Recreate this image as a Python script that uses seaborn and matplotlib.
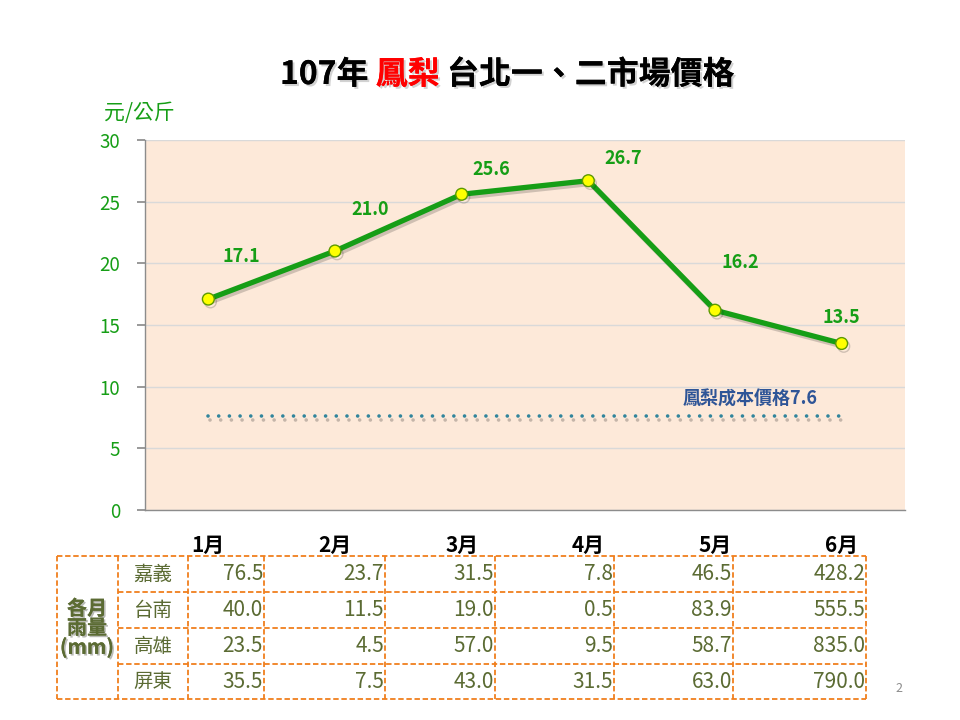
import matplotlib
matplotlib.use("Agg")
import matplotlib.pyplot as plt
import matplotlib.patheffects as pe
import seaborn as sns
import pandas as pd

sns.set_theme(style="white")
plt.rcParams['font.family'] = ['Noto Sans CJK TC', 'DejaVu Sans']

# ---- data ----
months = ["1月", "2月", "3月", "4月", "5月", "6月"]
prices = [17.1, 21.0, 25.6, 26.7, 16.2, 13.5]
cost_price = 7.6
cost_label = "鳳梨成本價格7.6"
stations = ["嘉義", "台南", "高雄", "屏東"]
rain_chiayi = [76.5, 23.7, 31.5, 7.8, 46.5, 428.2]
rain_tainan = [40.0, 11.5, 19.0, 0.5, 83.9, 555.5]
rain_kaohsiung = [23.5, 4.5, 57.0, 9.5, 58.7, 835.0]
rain_pingtung = [35.5, 7.5, 43.0, 31.5, 63.0, 790.0]
yticks = [0, 5, 10, 15, 20, 25, 30]

W, H = 960, 720
fig = plt.figure(figsize=(9.6, 7.2), dpi=100)
fig.patch.set_facecolor("white")

def fx(px):
    return px / W

def fy(py):
    return 1 - py / H

green = "#169E16"

# ---- main chart ----
ax = fig.add_axes([fx(145), fy(510), (905 - 145) / W, (510 - 140) / H])
ax.set_facecolor("#FDE9D9")
df = pd.DataFrame({"month": months, "price": prices, "idx": range(len(months))})

ax.plot([0, len(months) - 1], [cost_price, cost_price], color="#31859C",
        lw=2.6, ls=(0, (0.01, 2.95)), dash_capstyle="round",
        path_effects=[pe.SimpleLineShadow(offset=(1.5, -2.5), alpha=0.25), pe.Normal()], zorder=3)

sns.lineplot(data=df, x="idx", y="price", ax=ax, color=green, lw=3.8,
             marker="o", markersize=8.5, markerfacecolor="#FFFF00",
             markeredgecolor="#5C9A00", markeredgewidth=1.0, zorder=4,
             path_effects=[pe.SimpleLineShadow(offset=(1.5, -2), alpha=0.2), pe.Normal()])

label_offsets = [(24, 31), (25, 30), (21, 18), (25, 16), (18, 34), (0, 19)]
for i, (v, off) in enumerate(zip(prices, label_offsets)):
    ax.annotate(f"{v:.1f}", (i, v), xytext=off, textcoords="offset points",
                ha="center", va="center", color=green, fontsize=13,
                fontweight="bold", zorder=5)

ax.text(4.28, cost_price + 1.35, cost_label, ha="center", va="center",
        color="#2F5597", fontsize=13, fontweight="bold")

ax.set_xlim(-0.5, len(months) - 0.5)
ax.set_ylim(0, 30)
ax.set_yticks(yticks)
ax.set_yticklabels([str(t) for t in yticks], color=green, fontsize=13.5)
ax.set_xticks([])
ax.set_xlabel("")
ax.set_ylabel("")
ax.yaxis.grid(True, color="#D9D9D9", lw=1)
ax.set_axisbelow(True)
ax.tick_params(axis="y", which="both", left=True, length=6, color="#8C8C8C", pad=12)
for s in ["top", "right"]:
    ax.spines[s].set_visible(False)
for s in ["left", "bottom"]:
    ax.spines[s].set_color("#8C8C8C")
    ax.spines[s].set_linewidth(1)

# ---- overlay for title, labels and table ----
ov = fig.add_axes([0, 0, 1, 1], facecolor="none")
ov.set_xlim(0, W)
ov.set_ylim(H, 0)
ov.axis("off")

shadow = [pe.withSimplePatchShadow(offset=(1.5, -1.5), alpha=0.35, shadow_rgbFace="#808080"), pe.Normal()]
tsize = 23
t1 = ov.text(280, 75, "107年 ", fontsize=tsize, fontweight="bold", color="black",
             va="center", ha="left", path_effects=shadow)
fig.canvas.draw()
r = fig.canvas.get_renderer()
bb = t1.get_window_extent(r)
t2 = ov.text(bb.x1, 75, "鳳梨", fontsize=tsize, fontweight="bold", color="#FF0000",
             va="center", ha="left", path_effects=shadow)
bb2 = t2.get_window_extent(r)
ov.text(bb2.x1, 75, " 台北一、二市場價格", fontsize=tsize, fontweight="bold", color="black",
        va="center", ha="left", path_effects=shadow)

ov.text(104, 113, "元/公斤", fontsize=15, color=green, va="center", ha="left")

# month header
xcenters = [ax.transData.transform((i, 0))[0] for i in range(len(months))]
for xc, m in zip(xcenters, months):
    ov.text(xc, 545, m, fontsize=15, fontweight="bold", color="black", ha="center", va="center")

# table
col_edges = [57, 118, 188, 264, 385, 495, 614, 733, 866]
row_edges = [556, 592, 628, 664, 699]
orange = "#F07F1E"
dash = (0, (3, 1.5))
ov.plot([col_edges[0], col_edges[-1]], [row_edges[0]] * 2, color=orange, lw=1.3, ls=dash)
ov.plot([col_edges[0], col_edges[-1]], [row_edges[-1]] * 2, color=orange, lw=1.3, ls=dash)
for yv in row_edges[1:-1]:
    ov.plot([col_edges[1], col_edges[-1]], [yv, yv], color=orange, lw=1.3, ls=dash)
for xv in col_edges:
    ov.plot([xv, xv], [row_edges[0], row_edges[-1]], color=orange, lw=1.3, ls=dash)

rain_rows = [rain_chiayi, rain_tainan, rain_kaohsiung, rain_pingtung]
olive = "#5B6B33"
for ri, (st, vals) in enumerate(zip(stations, rain_rows)):
    yc = (row_edges[ri] + row_edges[ri + 1]) / 2
    ov.text((col_edges[1] + col_edges[2]) / 2, yc, st, fontsize=14, color=olive,
            ha="center", va="center")
    for ci, v in enumerate(vals):
        ov.text(col_edges[ci + 3] - 1, yc, f"{v:.1f}", fontsize=15, color=olive,
                ha="right", va="center")

ov.text(87, 628, "各月\n雨量\n(mm)", fontsize=14.5, fontweight="bold", color=olive,
        ha="center", va="center", linespacing=0.9,
        path_effects=[pe.withSimplePatchShadow(offset=(1.2, -1.2), alpha=0.3), pe.Normal()])

ov.text(899, 688, "2", fontsize=9, color="#8C8C8C", ha="center", va="center")

fig.savefig("out.png", dpi=100, facecolor="white")
